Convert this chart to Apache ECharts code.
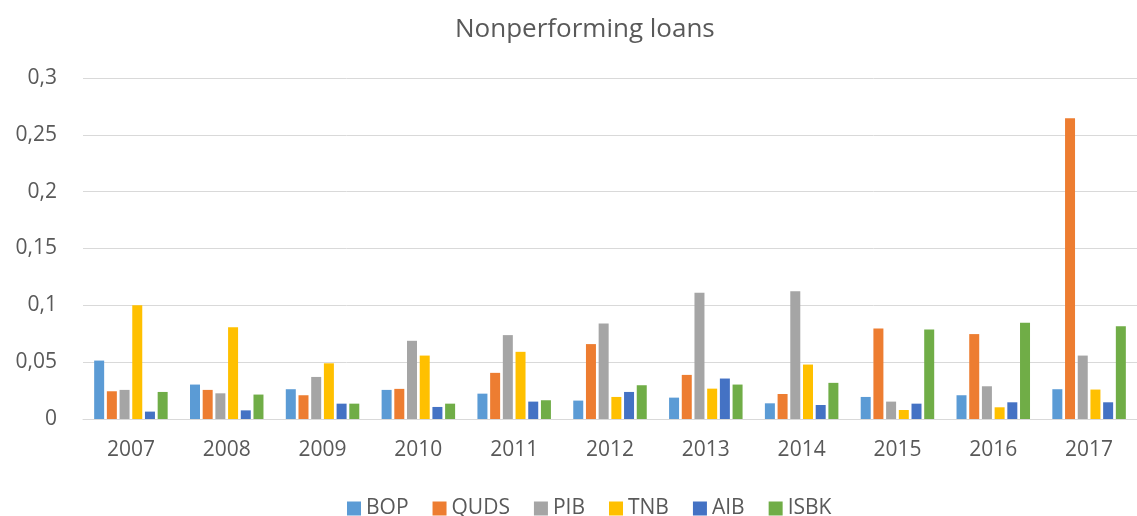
<!DOCTYPE html>
<html>
<head>
<meta charset="utf-8">
<script src="https://cdn.jsdelivr.net/npm/echarts@6/dist/echarts.min.js"></script>
<style>
  html, body { margin: 0; padding: 0; background: #fff; }
  #container { width: 1137px; height: 516px; }
</style>
</head>
<body>
<div id="container"></div>
<script>
var years = ['2007', '2008', '2009', '2010', '2011', '2012', '2013', '2014', '2015', '2016', '2017'];
var bop  = [0.0514, 0.0303, 0.0262, 0.0256, 0.0223, 0.0162, 0.0188, 0.0138, 0.0194, 0.0209, 0.0262];
var quds = [0.0244, 0.0256, 0.0209, 0.0265, 0.0406, 0.0659, 0.0388, 0.0220, 0.0797, 0.0747, 0.2645];
var pib  = [0.0256, 0.0226, 0.0370, 0.0688, 0.0738, 0.0840, 0.1111, 0.1123, 0.0153, 0.0288, 0.0558];
var tnb  = [0.1000, 0.0808, 0.0490, 0.0558, 0.0591, 0.0194, 0.0267, 0.0479, 0.0079, 0.0103, 0.0259];
var aib  = [0.0065, 0.0076, 0.0135, 0.0106, 0.0153, 0.0238, 0.0356, 0.0123, 0.0135, 0.0147, 0.0147];
var isbk = [0.0238, 0.0215, 0.0135, 0.0135, 0.0165, 0.0297, 0.0303, 0.0318, 0.0788, 0.0847, 0.0817];

var names  = ['BOP', 'QUDS', 'PIB', 'TNB', 'AIB', 'ISBK'];
var values = [bop, quds, pib, tnb, aib, isbk];
var colors = ['#5B9BD5', '#ED7D31', '#A5A5A5', '#FFC000', '#4472C4', '#70AD47'];

var font = '"Open Sans", "Noto Sans", sans-serif';

var myChart = echarts.init(document.getElementById('container'));

var series = names.map(function (n, i) {
    return {
        name: n,
        type: 'bar',
        data: values[i],
        barWidth: 10,
        barGap: '27%',
        itemStyle: { color: colors[i] }
    };
});

var option = {
    animation: false,
    color: colors,
    title: {
        text: 'Nonperforming loans',
        left: 450,
        top: 12,
        textStyle: { color: '#595959', fontFamily: font, fontWeight: 'normal', fontSize: 26 }
    },
    grid: { left: 83, top: 78, width: 1060, bottom: 97, containLabel: false },
    legend: {
        top: 493,
        left: 342,
        icon: 'rect',
        itemWidth: 14,
        itemHeight: 14,
        itemGap: 24,
        textStyle: { color: '#595959', fontFamily: font, fontSize: 21 }
    },
    xAxis: {
        type: 'category',
        data: years,
        axisLine: { lineStyle: { color: '#D9D9D9', width: 1 } },
        axisTick: { show: false },
        axisLabel: { color: '#595959', fontFamily: font, fontSize: 21, margin: 21 }
    },
    yAxis: {
        type: 'value',
        min: 0,
        max: 0.3,
        interval: 0.05,
        axisLine: { show: false },
        axisTick: { show: false },
        splitLine: { lineStyle: { color: '#D9D9D9', width: 1 } },
        axisLabel: {
            color: '#595959', fontFamily: font, fontSize: 21, margin: 26,
            formatter: function (v) { return String(Math.round(v * 100) / 100).replace('.', ','); }
        }
    },
    series: series
};

myChart.setOption(option, true);
window.onresize = function () { myChart.resize(); };
</script>
</body>
</html>
